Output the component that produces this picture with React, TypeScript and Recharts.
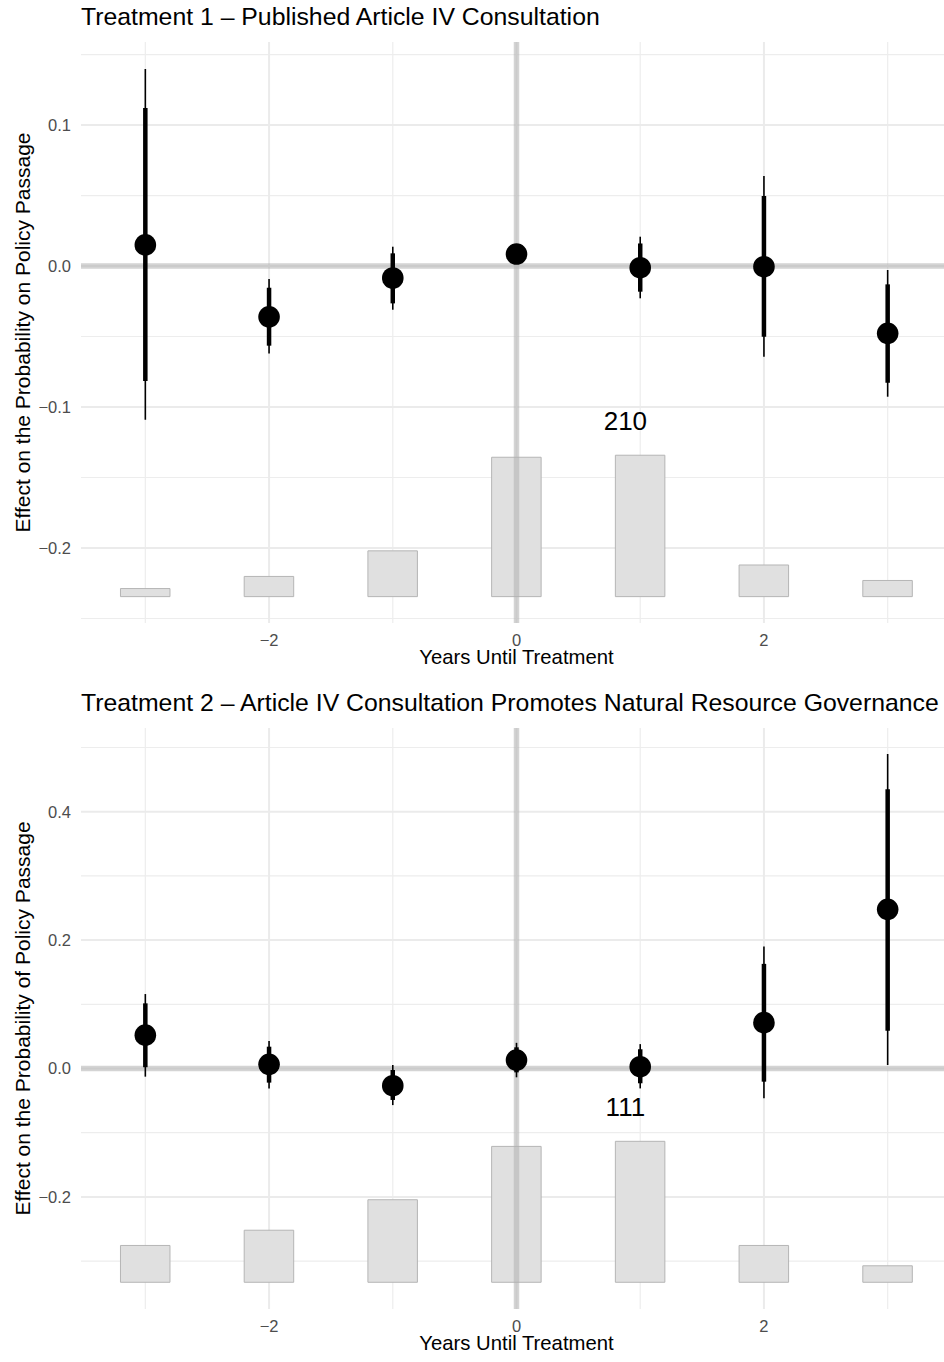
import React from "react";
import {
  ComposedChart,
  Bar,
  Scatter,
  ErrorBar,
  XAxis,
  YAxis,
  CartesianGrid,
  ReferenceLine,
  ReferenceDot,
} from "recharts";

const years = [-3, -2, -1, 0, 1, 2, 3];

// Treatment 1: point estimates, 95% (thin) and 90% (thick) intervals, counts
const est1 = [0.015, -0.036, -0.0085, 0.0085, -0.0012, -0.0005, -0.0477];
const lo95_1 = [-0.109, -0.062, -0.031, 0.004, -0.0229, -0.0643, -0.0927];
const hi95_1 = [0.1397, -0.0092, 0.0137, 0.013, 0.0208, 0.0638, -0.0028];
const lo90_1 = [-0.0816, -0.0565, -0.0265, 0.005, -0.0182, -0.0501, -0.0828];
const hi90_1 = [0.112, -0.0154, 0.009, 0.012, 0.016, 0.0496, -0.013];
const counts1 = [12, 30, 68, 207, 210, 47, 24];

// Treatment 2
const est2 = [0.052, 0.0065, -0.0268, 0.0132, 0.0028, 0.0714, 0.248];
const lo95_2 = [-0.0127, -0.031, -0.057, -0.0137, -0.031, -0.0465, 0.0055];
const hi95_2 = [0.116, 0.043, 0.0055, 0.04, 0.038, 0.19, 0.49];
const lo90_2 = [0.002, -0.022, -0.049, -0.006, -0.023, -0.0205, 0.059];
const hi90_2 = [0.1015, 0.034, -0.0023, 0.033, 0.03, 0.163, 0.435];
const counts2 = [29, 41, 65, 107, 111, 29, 13];

const xMajor = [-2, 0, 2];
const xMinor = [-3, -1, 1, 3];

const FONT = '"Liberation Sans", Arial, Helvetica, sans-serif';

const buildRows = (
  est: number[],
  lo95: number[],
  hi95: number[],
  lo90: number[],
  hi90: number[],
  counts: number[],
  barBase: number,
  barMax: number
) => {
  const maxCount = Math.max(...counts);
  return years.map((x, i) => ({
    x,
    est: est[i],
    err95: [est[i] - lo95[i], hi95[i] - est[i]],
    err90: [est[i] - lo90[i], hi90[i] - est[i]],
    bar: [barBase, barBase + (counts[i] / maxCount) * barMax],
  }));
};

const fmt = (v: number) => (v < 0 ? "\u2212" + Math.abs(v).toFixed(1) : v.toFixed(1));

const Dot = (p: any) => <circle cx={p.cx} cy={p.cy} r={10.8} fill="#000" />;

const YTitle = ({ text }: { text: string }) => (props: any) => {
  const vb = props.viewBox || { y: 42, height: 581 };
  const cx = 30;
  const cy = vb.y + vb.height / 2;
  return (
    <text
      x={cx}
      y={cy}
      transform={`rotate(-90 ${cx} ${cy})`}
      textAnchor="middle"
      fontSize={21}
      fontFamily={FONT}
      fill="#000"
    >
      {text}
    </text>
  );
};

interface PanelProps {
  top: number;
  title: string;
  yTitle: string;
  rows: any[];
  domain: [number, number];
  yMajor: number[];
  yMinor: number[];
  nLabel: { x: number; y: number; value: string };
}

const Panel = ({ top, title, yTitle, rows, domain, yMajor, yMinor, nLabel }: PanelProps) => (
  <div style={{ position: "absolute", left: 0, top, width: 952, height: 673 }}>
    <div
      style={{
        position: "absolute",
        left: 81,
        top: 5.4,
        fontFamily: FONT,
        fontSize: 24.8,
        lineHeight: "24px",
        whiteSpace: "nowrap",
        color: "#000",
      }}
    >
      {title}
    </div>
    <ComposedChart
      width={952}
      height={673}
      data={rows}
      margin={{ top: 42, right: 0, bottom: 0, left: 0 }}
    >
      <CartesianGrid
        horizontalValues={yMinor}
        verticalValues={xMinor}
        stroke="#ededed"
        strokeWidth={1.2}
      />
      <CartesianGrid
        horizontalValues={yMajor}
        verticalValues={xMajor}
        stroke="#ebebeb"
        strokeWidth={2}
      />
      <XAxis
        dataKey="x"
        type="number"
        domain={[-3.52, 3.52]}
        allowDataOverflow
        ticks={xMajor}
        tickFormatter={(v: number) => (v < 0 ? "\u2212" + Math.abs(v) : String(v))}
        tick={{ fill: "#4d4d4d", fontSize: 16.5, fontFamily: FONT }}
        tickLine={false}
        axisLine={false}
        tickMargin={5}
        height={50}
        label={{
          value: "Years Until Treatment",
          position: "insideBottom",
          offset: 8.7,
          fill: "#000",
          fontSize: 20.3,
          fontFamily: FONT,
        }}
      />
      <YAxis
        type="number"
        domain={domain}
        allowDataOverflow
        ticks={yMajor}
        tickFormatter={fmt}
        tick={{ fill: "#4d4d4d", fontSize: 16.5, fontFamily: FONT }}
        tickLine={false}
        axisLine={false}
        tickMargin={4}
        width={81}
        label={{ content: YTitle({ text: yTitle }) }}
      />
      <Bar
        dataKey="bar"
        fill="#e0e0e0"
        stroke="#b5b5b5"
        strokeWidth={1}
        barSize={49.5}
        isAnimationActive={false}
      />
      <ReferenceLine y={0} stroke="#b0b0b0" strokeOpacity={0.55} strokeWidth={5.5} />
      <ReferenceLine x={0} stroke="#b0b0b0" strokeOpacity={0.55} strokeWidth={5.5} />
      <Scatter dataKey="est" fill="#000" shape={Dot} isAnimationActive={false}>
        <ErrorBar
          dataKey="err95"
          direction="y"
          width={0}
          stroke="#000"
          strokeWidth={1.6}
          isAnimationActive={false}
        />
        <ErrorBar
          dataKey="err90"
          direction="y"
          width={0}
          stroke="#000"
          strokeWidth={4.5}
          isAnimationActive={false}
        />
      </Scatter>
      <ReferenceDot
        x={nLabel.x}
        y={nLabel.y}
        r={0}
        fill="none"
        stroke="none"
        label={{
          value: nLabel.value,
          position: "center",
          fill: "#000",
          fontSize: 26,
          fontFamily: FONT,
        }}
      />
    </ComposedChart>
  </div>
);

export default function App() {
  const rows1 = buildRows(est1, lo95_1, hi95_1, lo90_1, hi90_1, counts1, -0.2345, 0.1003);
  const rows2 = buildRows(est2, lo95_2, hi95_2, lo90_2, hi90_2, counts2, -0.333, 0.2196);
  return (
    <div
      style={{
        position: "absolute",
        left: 0,
        top: 0,
        width: 944,
        height: 1362,
        overflow: "hidden",
        background: "#fff",
      }}
    >
      <Panel
        top={0}
        title="Treatment 1 – Published Article IV Consultation"
        yTitle="Effect on the Probability on Policy Passage"
        rows={rows1}
        domain={[-0.2532, 0.1589]}
        yMajor={[-0.2, -0.1, 0, 0.1]}
        yMinor={[-0.25, -0.15, -0.05, 0.05, 0.15]}
        nLabel={{ x: 0.88, y: -0.11, value: String(Math.max(...counts1)) }}
      />
      <Panel
        top={686}
        title="Treatment 2 – Article IV Consultation Promotes Natural Resource Governance"
        yTitle="Effect on the Probability of Policy Passage"
        rows={rows2}
        domain={[-0.3746, 0.5304]}
        yMajor={[-0.2, 0, 0.2, 0.4]}
        yMinor={[-0.3, -0.1, 0.1, 0.3, 0.5]}
        nLabel={{ x: 0.88, y: -0.06, value: String(Math.max(...counts2)) }}
      />
    </div>
  );
}
